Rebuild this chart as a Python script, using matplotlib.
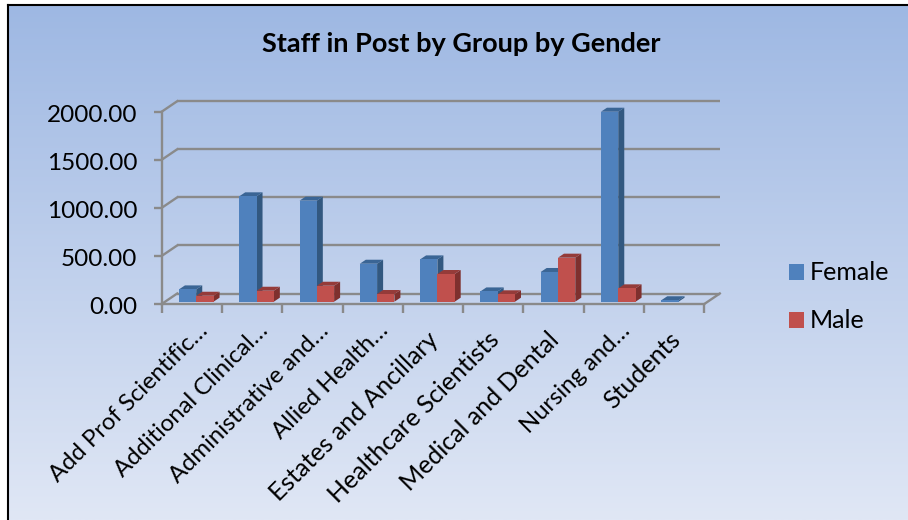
import numpy as np
import matplotlib
matplotlib.use("Agg")
import matplotlib.pyplot as plt
from matplotlib.patches import Polygon, Patch
from matplotlib.transforms import Affine2D

categories = ["Add Prof Scientific…", "Additional Clinical…", "Administrative and…",
              "Allied Health…", "Estates and Ancillary", "Healthcare Scientists",
              "Medical and Dental", "Nursing and…", "Students"]
female = [128, 1096, 1051, 395, 440, 107, 309, 1976, 15]
male = [62, 114, 166, 80, 288, 77, 458, 139, 0]
yticks = [0, 500, 1000, 1500, 2000]

W, H = 908, 520
FONT = "Lato"
AXC = "#8A8A8A"

fig = plt.figure(figsize=(W / 100, H / 100), dpi=100, facecolor="white")

# background panel with vertical gradient
bg = fig.add_axes([8 / W, 0, 1 - 8 / W, 1 - 5 / H])
top_c = np.array([0x9E, 0xB8, 0xE3]) / 255
bot_c = np.array([0xE0, 0xE7, 0xF5]) / 255
t = np.linspace(0, 1, 256)[:, None, None]
bg.imshow(top_c[None, None, :] * (1 - t) + bot_c[None, None, :] * t, aspect="auto",
          interpolation="bilinear")
bg.set_xticks([]); bg.set_yticks([])
for s in ("right", "bottom"):
    bg.spines[s].set_visible(False)
for s in ("top", "left"):
    bg.spines[s].set_linewidth(1.5)
    bg.spines[s].set_color("black")

# main axes = front plane of the 3D box
L, R, T, B = 161.7, 704.3, 111.7, 304.0
ax = fig.add_axes([L / W, (H - B) / H, (R - L) / W, (B - T) / H])
ax.patch.set_visible(False)
ax.set_xlim(0, 9)
ax.set_ylim(0, 2000)
px = 9 / (R - L)
py = 2000 / (B - T)

LW = 1.7
wall = ax.transData + Affine2D().translate(15.5, 10.5)
for v in yticks:
    ax.plot([0, 9], [v, v], transform=wall, color=AXC, lw=LW, clip_on=False, zorder=1,
            solid_capstyle="butt")
    ax.plot([0, 15.5 * px], [v, v + 10.5 * py], color=AXC, lw=LW, clip_on=False, zorder=1)
ax.plot([9, 9 + 15.5 * px], [0, 10.5 * py], color=AXC, lw=LW, clip_on=False, zorder=1)

for s in ("top", "right"):
    ax.spines[s].set_visible(False)
for s in ("left", "bottom"):
    ax.spines[s].set_color(AXC)
    ax.spines[s].set_linewidth(LW)
    ax.spines[s].set_zorder(2)

ax.set_yticks(yticks)
ax.set_yticklabels([f"{v:.2f}" for v in yticks], fontsize=17.5, family=FONT, color="black")
ax.tick_params(axis="y", length=5.5, width=LW, color=AXC, pad=12)
for lbl in ax.get_yticklabels():
    lbl.set_transform(lbl.get_transform() + Affine2D().translate(0, -2))
ax.set_xticks(range(10))
ax.set_xticklabels([])
ax.tick_params(axis="x", which="major", length=6.2, width=LW, color=AXC)
ax.set_xticks(np.arange(9) + 0.5, minor=True)
ax.set_xticklabels(categories, minor=True, rotation=45, ha="right", va="top",
                   rotation_mode="anchor", fontsize=18, family=FONT, color="black")
ax.tick_params(axis="x", which="minor", length=0, pad=17)
# the ellipsis is wider in this font than in the original, so those labels are set a little smaller
for lbl in ax.get_xticklabels(minor=True):
    if lbl.get_text().endswith("…"):
        lbl.set_fontsize(17.2)
        lbl.set_transform(lbl.get_transform() + Affine2D().translate(5, 8))
    else:
        lbl.set_transform(lbl.get_transform() + Affine2D().translate(-6, 0))

# bars with pseudo-3D side and top faces
bar_tf = ax.transData + Affine2D().translate(4.4, 2.3)
bw = 17.3 * px
ddx, ddy = 6.0 * px, 4.0 * py
series = [("Female", female, "#4F81BD", "#325880", "#3A6595", -bw),
          ("Male", male, "#C0504D", "#7E302E", "#953B39", 0.0)]
z = 5
for i in range(len(categories)):
    for name, vals, front, side, top, off in series:
        v = vals[i]
        if v == 0:
            continue
        x0 = i + 0.5 + off
        x1 = x0 + bw
        ax.add_patch(Polygon([(x1, 0), (x1 + ddx, ddy), (x1 + ddx, v + ddy), (x1, v)],
                             closed=True, fc=side, ec="none", transform=bar_tf,
                             clip_on=False, zorder=z))
        ax.add_patch(Polygon([(x0, v), (x1, v), (x1 + ddx, v + ddy), (x0 + ddx, v + ddy)],
                             closed=True, fc=top, ec="none", transform=bar_tf,
                             clip_on=False, zorder=z))
        ax.bar(x0, v, width=bw, align="edge", color=front, transform=bar_tf,
               clip_on=False, zorder=z + 0.5)
        z += 1

leg_fs = 18
leg = fig.legend(handles=[Patch(fc=s[2], ec="none", label=s[0]) for s in series],
                 loc="center left", bbox_to_anchor=(789 / W, 1 - 297 / H), frameon=False,
                 prop={"family": FONT, "size": leg_fs}, handlelength=10.8 / leg_fs,
                 handleheight=10.8 / leg_fs, handletextpad=0.22, labelspacing=1.0,
                 borderpad=0, borderaxespad=0)

fig.text(461 / W, 1 - 44.5 / H, "Staff in Post by Group by Gender", ha="center", va="center",
         fontsize=19.5, fontweight="bold", family=FONT, color="black")

fig.savefig("out.png", dpi=100)
